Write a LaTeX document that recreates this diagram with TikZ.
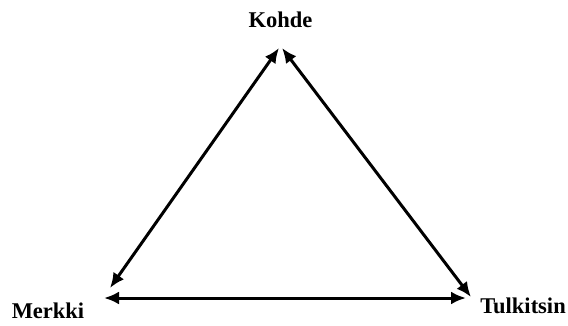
\documentclass[tikz,border=0pt]{standalone}
\usepackage{fontspec}
\setmainfont{Liberation Serif}
\usetikzlibrary{arrows.meta,positioning}

\begin{document}
\begin{tikzpicture}[
    x=1pt, y=1pt,
    label/.style={font=\bfseries\fontsize{22.5}{25}\selectfont, inner sep=0pt, anchor=base},
    arrow/.style={{Latex[length=15pt,width=13pt]}-{Latex[length=15pt,width=13pt]}, line width=3pt}
]
\useasboundingbox (0,0) rectangle (568,325);

% sign vertices
\node[label] (kohde) at (280.5,298) {Kohde};
\node[label] (merkki) at (48,7) {Merkki};
\node[label] (tulkitsin) at (523,12) {Tulkitsin};

% arrow ends
\coordinate (kl) at (279,277);
\coordinate (kr) at (282,277);
\coordinate (ml) at (110,37);
\coordinate (mb) at (104,27);
\coordinate (tr) at (471,28);
\coordinate (tb) at (466,27);

\draw[arrow] (ml) -- (kl);
\draw[arrow] (kr) -- (tr);
\draw[arrow] (mb) -- (tb);

\end{tikzpicture}
\end{document}
